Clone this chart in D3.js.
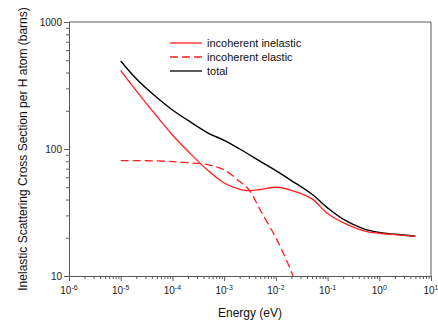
<!DOCTYPE html>
<html><head><meta charset="utf-8">
<script src="https://cdn.jsdelivr.net/npm/d3@7"></script>
<style>
body{margin:0;background:#fff;}
svg{display:block;font-family:"Liberation Sans",Arial,sans-serif;}
</style></head>
<body><svg id="c" width="438" height="321"></svg>
<script>
const energyInel = [1e-5,2e-5,5e-5,1e-4,2e-4,5e-4,1e-3,2e-3,3e-3,5e-3,1e-2,2e-2,5e-2,0.1,0.2,0.5,1,2,5];
const inelastic  = [414,287,181,129,96,67,54,48.2,47,48,50,47.3,40.5,31,26.3,22.7,21.7,21.2,20.5];
const energyTot  = [1e-5,2e-5,5e-5,1e-4,2e-4,5e-4,1e-3,2e-3,5e-3,1e-2,2e-2,5e-2,0.1,0.2,0.5,1,2,5];
const total      = [493,357,254,203,168,133,117,100,80,67.5,56.4,44,34.4,28,23.5,22,21.3,20.6];
const energyEl   = [1e-5,2e-5,5e-5,1e-4,2e-4,5e-4,1e-3,2e-3,3e-3,5e-3,1e-2,1.5e-2,2.15e-2,2.6e-2];
const elastic    = [81,81,80.5,79.5,78,75,68.5,55.5,48,33,20,14.2,10,8];
const xMajorExp = [-6,-5,-4,-3,-2,-1,0,1];
const yMajor = [10,100,1000];
const legendLabels = ["incoherent inelastic","incoherent elastic","total"];
const xTitle = "Energy (eV)";
const yTitle = "Inelastic Scattering Cross Section per H atom (barns)";

const svg = d3.select("#c");
const L=69,R=431,T=22,B=276;
const x = d3.scaleLog().domain([1e-6,10]).range([L,R]);
const y = d3.scaleLog().domain([10,1000]).range([B,T]);
const axCol="#5a5a5a";

const xMinor=[]; for(let e=-6;e<1;e++) for(let k=2;k<=9;k++) xMinor.push(k*Math.pow(10,e));
const yMinor=[]; for(let e=1;e<3;e++) for(let k=2;k<=9;k++) yMinor.push(k*Math.pow(10,e));

const gx = svg.append("g").attr("transform",`translate(0,${B})`);
gx.call(d3.axisBottom(x).tickValues(xMinor).tickSize(3).tickFormat("").tickSizeOuter(0));
const gx2 = svg.append("g").attr("transform",`translate(0,${B})`);
gx2.call(d3.axisBottom(x).tickValues(xMajorExp.map(e=>Math.pow(10,e))).tickSize(5).tickFormat("").tickSizeOuter(0));
const gy = svg.append("g").attr("transform",`translate(${L},0)`);
gy.call(d3.axisLeft(y).tickValues(yMinor).tickSize(3).tickFormat("").tickSizeOuter(0));
const gy2 = svg.append("g").attr("transform",`translate(${L},0)`);
gy2.call(d3.axisLeft(y).tickValues(yMajor).tickSize(5).tickFormat(d3.format("d")).tickSizeOuter(0));
svg.selectAll(".domain").attr("stroke",axCol);
svg.selectAll(".tick line").attr("stroke",axCol);
gy2.selectAll(".tick text").attr("font-size",10).attr("fill","#222").attr("font-family","Liberation Sans, Arial").attr("x",-7);

xMajorExp.forEach(e=>{
  const t=svg.append("text").attr("x",x(Math.pow(10,e))).attr("y",B+18).attr("text-anchor","middle")
    .attr("font-size",10).attr("fill","#222");
  t.append("tspan").text("10");
  t.append("tspan").attr("font-size",7).attr("dy",-4).text(String(e));
});

svg.append("line").attr("x1",L).attr("x2",R).attr("y1",T).attr("y2",T).attr("stroke",axCol);
svg.append("line").attr("x1",R).attr("x2",R).attr("y1",T).attr("y2",B).attr("stroke",axCol);

svg.append("clipPath").attr("id","clip").append("rect").attr("x",L).attr("y",T).attr("width",R-L).attr("height",B-T);

const line = d3.line().x(d=>x(d[0])).y(d=>y(d[1])).curve(d3.curveCatmullRom.alpha(0.5));
const plot = svg.append("g").attr("clip-path","url(#clip)");
plot.append("path").attr("d",line(d3.zip(energyEl,elastic))).attr("fill","none").attr("stroke","#ff2020").attr("stroke-width",1.3).attr("stroke-dasharray","8,4");
plot.append("path").attr("d",line(d3.zip(energyTot,total))).attr("fill","none").attr("stroke","#000").attr("stroke-width",1.4);
plot.append("path").attr("d",line(d3.zip(energyInel,inelastic))).attr("fill","none").attr("stroke","#ff2020").attr("stroke-width",1.3);

const legStyles=[{c:"#ff2020",d:null},{c:"#ff2020",d:"8,4"},{c:"#000",d:null}];
legendLabels.forEach((lab,i)=>{
  const yy=43+i*14;
  svg.append("line").attr("x1",170).attr("x2",202).attr("y1",yy).attr("y2",yy)
    .attr("stroke",legStyles[i].c).attr("stroke-width",1.3).attr("stroke-dasharray",legStyles[i].d);
  svg.append("text").attr("x",207).attr("y",yy+4).attr("font-size",11).attr("fill","#111").text(lab);
});

svg.append("text").attr("x",(L+R)/2).attr("y",317).attr("text-anchor","middle").attr("font-size",12).attr("fill","#111").text(xTitle);
svg.append("text").attr("transform",`translate(27,149) rotate(-90)`).attr("text-anchor","middle").attr("font-size",12).attr("fill","#111").text(yTitle);
</script></body></html>
